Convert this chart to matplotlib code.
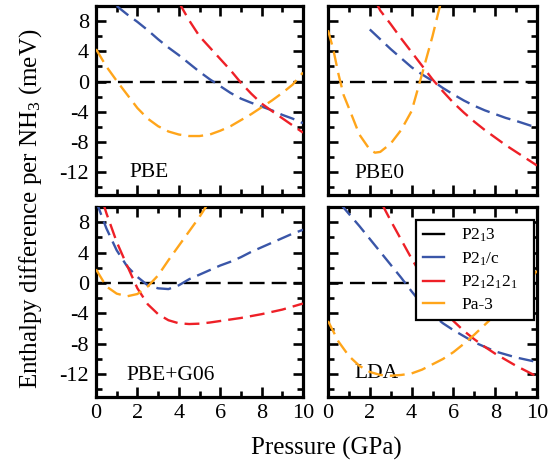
import matplotlib
matplotlib.use("Agg")
import matplotlib.pyplot as plt
from matplotlib.lines import Line2D
from matplotlib.ticker import MultipleLocator

plt.rcParams['font.family'] = ['Liberation Serif', 'DejaVu Serif']
plt.rcParams['mathtext.fontset'] = 'custom'
plt.rcParams['mathtext.rm'] = 'Liberation Serif'
plt.rcParams['mathtext.default'] = 'regular'
plt.rcParams['axes.unicode_minus'] = False

# ---------------- data (pressure in GPa, enthalpy diff in meV) ----------------
# PBE
pbe_p21c_x = [1.0, 1.5, 2, 2.5, 3, 3.5, 4, 4.5, 5, 5.5, 6, 6.5, 7, 7.5, 8, 8.5, 9, 9.5, 10]
pbe_p21c_y = [10.0, 8.9, 7.9, 6.8, 5.6, 4.5, 3.5, 2.4, 1.3, 0.3, -0.6, -1.5, -2.25, -2.8, -3.3, -3.8, -4.4, -4.9, -5.5]
pbe_p212121_x = [4.0, 4.5, 5, 5.5, 6, 6.5, 7, 7.5, 8, 8.5, 9, 9.5, 10]
pbe_p212121_y = [10.5, 8.1, 6.0, 4.5, 3.0, 1.5, -0.15, -1.6, -2.9, -3.9, -4.85, -5.8, -6.75]
pbe_pa3_x = [0, 0.5, 1, 1.5, 2, 2.5, 3, 3.5, 4, 4.5, 5, 5.5, 6, 6.5, 7, 7.5, 8, 8.5, 9, 9.5, 10]
pbe_pa3_y = [4.3, 2.0, 0.1, -1.7, -3.5, -4.9, -5.9, -6.6, -7.0, -7.2, -7.2, -7.0, -6.5, -5.9, -5.1, -4.3, -3.4, -2.5, -1.5, -0.4, 1.2]

# PBE0
pbe0_p21c_x = [2.0, 2.5, 3, 3.5, 4, 4.5, 5, 5.5, 6, 6.5, 7, 7.5, 8, 8.5, 9, 9.5, 10]
pbe0_p21c_y = [6.9, 5.6, 4.3, 3.1, 1.9, 0.95, 0.1, -0.85, -1.7, -2.5, -3.2, -3.8, -4.3, -4.8, -5.2, -5.65, -6.1]
pbe0_p212121_x = [2.3, 2.5, 3, 3.5, 4, 4.5, 5, 5.5, 6, 6.5, 7, 7.5, 8, 8.5, 9, 9.5, 10]
pbe0_p212121_y = [10.5, 9.4, 7.6, 5.7, 3.9, 2.1, 0.3, -1.3, -2.8, -4.1, -5.3, -6.4, -7.4, -8.4, -9.3, -10.2, -11.1]
pbe0_pa3_x = [0, 0.25, 0.5, 0.75, 1, 1.5, 2, 2.25, 2.5, 3, 3.5, 4, 4.5, 5, 5.4]
pbe0_pa3_y = [6.8, 4.3, 1.0, -1.8, -3.5, -7.0, -9.0, -9.4, -9.3, -8.2, -6.4, -3.9, 1.0, 6.0, 10.5]

# PBE+G06
g06_p21c_x = [0, 0.5, 1, 1.5, 2, 2.5, 3, 3.5, 4, 4.5, 5, 5.5, 6, 6.5, 7, 7.5, 8, 8.5, 9, 9.5, 10]
g06_p21c_y = [10.8, 7.2, 4.3, 2.2, 0.8, -0.3, -0.7, -0.8, -0.3, 0.5, 1.1, 1.7, 2.3, 2.8, 3.4, 4.1, 4.7, 5.3, 5.9, 6.5, 7.0]
g06_p212121_x = [0.35, 0.5, 1, 1.5, 2, 2.5, 3, 3.5, 4, 4.5, 5, 5.5, 6, 7, 8, 9, 10]
g06_p212121_y = [10.5, 9.2, 5.4, 2.3, -0.7, -2.8, -4.1, -4.9, -5.3, -5.4, -5.35, -5.2, -5.0, -4.6, -4.1, -3.5, -2.7]
g06_pa3_x = [0, 0.5, 1, 1.5, 2, 2.5, 3, 3.5, 4, 4.5, 5, 5.4]
g06_pa3_y = [1.8, -0.45, -1.4, -1.75, -1.45, -0.45, 1.0, 3.0, 4.9, 6.8, 8.7, 10.4]

# LDA
lda_p21c_x = [0.6, 1, 1.5, 2, 2.5, 3, 3.5, 4, 4.5, 5, 5.5, 6, 6.5, 7, 7.5, 8, 8.5, 9, 9.5, 10]
lda_p21c_y = [10.4, 9.1, 7.5, 5.8, 4.1, 2.4, 0.7, -1.1, -2.8, -4.2, -5.3, -6.2, -7.0, -7.8, -8.4, -9.0, -9.4, -9.8, -10.1, -10.4]
lda_p212121_x = [2.6, 3, 3.5, 4, 4.5, 5, 5.5, 6, 6.5, 7, 7.5, 8, 8.5, 9, 9.5, 10]
lda_p212121_y = [10.3, 8.2, 5.7, 3.2, 0.9, -1.4, -3.4, -5.0, -6.3, -7.4, -8.4, -9.3, -10.1, -10.9, -11.6, -12.3]
lda_pa3_x = [0, 0.5, 1, 1.5, 2, 2.5, 3, 3.5, 4, 4.5, 5, 5.5, 6, 6.5, 7, 7.5, 8, 8.5, 9, 9.5, 10]
lda_pa3_y = [-5.0, -7.7, -9.6, -10.9, -11.7, -12.1, -12.2, -12.1, -11.9, -11.4, -10.7, -10.0, -9.1, -8.0, -6.8, -5.5, -4.2, -3.0, -1.6, -0.1, 1.6]

ref_x = [0, 10]
ref_y = [0, 0]

panel_names = ["PBE", "PBE0", "PBE+G06", "LDA"]
series_labels = ["P2$_1$3", "P2$_1$/c", "P2$_1$2$_1$2$_1$", "Pa-3"]
x_ticks = [0, 2, 4, 6, 8, 10]
y_ticks = [-12, -8, -4, 0, 4, 8]

panels = {
    "PBE": [(pbe_p21c_x, pbe_p21c_y), (pbe_p212121_x, pbe_p212121_y), (pbe_pa3_x, pbe_pa3_y)],
    "PBE0": [(pbe0_p21c_x, pbe0_p21c_y), (pbe0_p212121_x, pbe0_p212121_y), (pbe0_pa3_x, pbe0_pa3_y)],
    "PBE+G06": [(g06_p21c_x, g06_p21c_y), (g06_p212121_x, g06_p212121_y), (g06_pa3_x, g06_pa3_y)],
    "LDA": [(lda_p21c_x, lda_p21c_y), (lda_p212121_x, lda_p212121_y), (lda_pa3_x, lda_pa3_y)],
}

colors = ["black", "#3a56a8", "#ee2027", "#ffa51a"]

# ---------------- figure ----------------
W, H = 560, 463
fig = plt.figure(figsize=(W / 100, H / 100), dpi=100)

def rect(l, r, t, b):
    return [l / W, 1 - b / H, (r - l) / W, (b - t) / H]

rects = [rect(96, 303, 6, 195), rect(328, 537, 6, 195),
         rect(96, 303, 207, 397), rect(328, 537, 207, 397)]
label_pos = {"PBE": (1.6, -12.6), "PBE0": (1.25, -12.7),
             "PBE+G06": (1.47, -12.7), "LDA": (1.25, -12.5)}

LW = 1.7
DASH = (6.3, 3.0)

axes = []
for i, name in enumerate(panel_names):
    ax = fig.add_axes(rects[i])
    axes.append(ax)
    ax.plot(ref_x, ref_y, color=colors[0], lw=LW, dashes=DASH, zorder=2)
    for j, (xs, ys) in enumerate(panels[name]):
        ax.plot(xs, ys, color=colors[j + 1], lw=LW, dashes=DASH, zorder=3 + j)
    ax.set_xlim(0, 10)
    ax.set_ylim(-15, 10)
    ax.set_xticks(x_ticks)
    ax.set_yticks(y_ticks)
    ax.xaxis.set_minor_locator(MultipleLocator(1))
    ax.yaxis.set_minor_locator(MultipleLocator(2))
    ax.tick_params(which='both', direction='in', top=True, right=True,
                   labelsize=16, width=1.9)
    ax.tick_params(which='major', length=7.5)
    ax.tick_params(which='minor', length=4)
    ax.tick_params(axis='y', pad=5)
    ax.tick_params(axis='x', pad=5)
    for s in ax.spines.values():
        s.set_linewidth(2.3)
    if i % 2 == 1:
        ax.tick_params(labelleft=False)
    if i < 2:
        ax.tick_params(labelbottom=False)
    tx, ty = label_pos[name]
    ax.text(tx, ty, name, fontsize=15.5, ha='left', va='baseline')

handles = [Line2D([0], [0], color=c, lw=LW) for c in colors]
leg = axes[3].legend(handles, series_labels, loc='upper left',
                     bbox_to_anchor=(0.421, 0.0, 0.565, 0.932), mode='expand',
                     fontsize=12.5, frameon=True, fancybox=False, framealpha=1,
                     edgecolor='black', handlelength=1.2, handletextpad=1.0,
                     labelspacing=0.35, borderpad=0.4, borderaxespad=0)
leg.get_frame().set_linewidth(1.6)
leg.set_zorder(10)

fig.text(31 / W, 1 - 209 / H, "Enthalpy difference per NH$_3$ (meV)",
         rotation=90, ha='center', va='center', fontsize=18)
fig.text(326 / W, 1 - 455 / H, "Pressure (GPa)", ha='center', va='baseline',
         fontsize=18)

fig.savefig("out.png", dpi=100)
